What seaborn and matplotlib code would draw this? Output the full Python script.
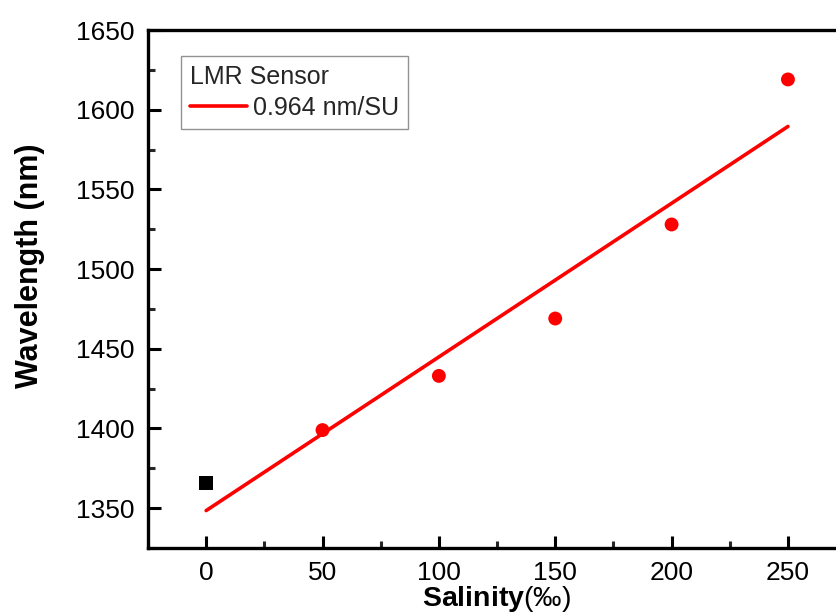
import numpy as np
import pandas as pd
import matplotlib
matplotlib.use("Agg")
import matplotlib.pyplot as plt
import seaborn as sns
from matplotlib.ticker import MultipleLocator
from matplotlib.lines import Line2D

# Measured resonance wavelength vs. salinity
salinity = [0, 50, 100, 150, 200, 250]
wavelength = [1366, 1399, 1433, 1469, 1528, 1619]
group = ["reference", "sample", "sample", "sample", "sample", "sample"]

# Linear sensitivity (nm per salinity unit)
slope = 0.964
fit_label = "0.964 nm/SU"
legend_title = "LMR Sensor"

sns.set_theme(style="white")
plt.rcParams["font.family"] = ["Liberation Sans", "DejaVu Sans"]
plt.rcParams["mathtext.fontset"] = "custom"
plt.rcParams["mathtext.bf"] = "Liberation Sans:bold"
plt.rcParams["mathtext.rm"] = "Liberation Sans"

df = pd.DataFrame({"salinity": salinity, "wavelength": wavelength, "group": group})
intercept = np.mean(wavelength) - slope * np.mean(salinity)
fit = pd.DataFrame({"salinity": [min(salinity), max(salinity)]})
fit["wavelength"] = intercept + slope * fit["salinity"]

fig = plt.figure(figsize=(8.37, 6.13), dpi=100)
ax = fig.add_axes([0.1768, 0.106, 0.8341, 0.845])

sns.lineplot(data=fit, x="salinity", y="wavelength", color="#ff0000",
             linewidth=2.6, ax=ax, zorder=2)
sns.scatterplot(data=df, x="salinity", y="wavelength", hue="group", style="group",
                palette={"reference": "black", "sample": "#ff0000"},
                markers={"reference": "s", "sample": "o"},
                s=100, edgecolor="none", ax=ax, legend=False, zorder=3)

ax.set_xlim(-25, 275)
ax.set_ylim(1325, 1650)
ax.xaxis.set_major_locator(MultipleLocator(50))
ax.xaxis.set_minor_locator(MultipleLocator(25))
ax.yaxis.set_major_locator(MultipleLocator(50))
ax.yaxis.set_minor_locator(MultipleLocator(25))
ax.tick_params(which="major", direction="in", length=9, width=2.2,
               labelsize=19, colors="black", bottom=True, left=True)
ax.tick_params(axis="y", which="major", pad=9.5)
ax.tick_params(axis="x", which="major", pad=9)
ax.tick_params(which="minor", direction="in", length=5, width=2.2,
               bottom=True, left=True)
for sp in ax.spines.values():
    sp.set_linewidth(2.4)
    sp.set_color("black")

ax.set_xlabel(r"$\bf{Salinity}$(‰)", fontsize=20.5, color="black")
ax.set_ylabel("Wavelength (nm)", fontsize=22, fontweight="bold", color="black")
ax.xaxis.label.set_verticalalignment("baseline")
ax.xaxis.set_label_coords(0.5, -0.111)
ax.yaxis.set_label_coords(-0.147, 0.544)

handle = Line2D([], [], color="#ff0000", linewidth=2.6)
leg = ax.legend([handle], [fit_label], title=legend_title, loc="upper left",
                bbox_to_anchor=(0.047, 0.95), fontsize=18, title_fontsize=18,
                frameon=True, fancybox=False, handlelength=2.3,
                handletextpad=0.25, borderpad=0.35, labelspacing=0.3,
                borderaxespad=0)
leg._legend_box.align = "left"
leg.get_frame().set_edgecolor("#777777")
leg.get_frame().set_linewidth(1.0)

fig.savefig("out.png", dpi=100, facecolor="white")
